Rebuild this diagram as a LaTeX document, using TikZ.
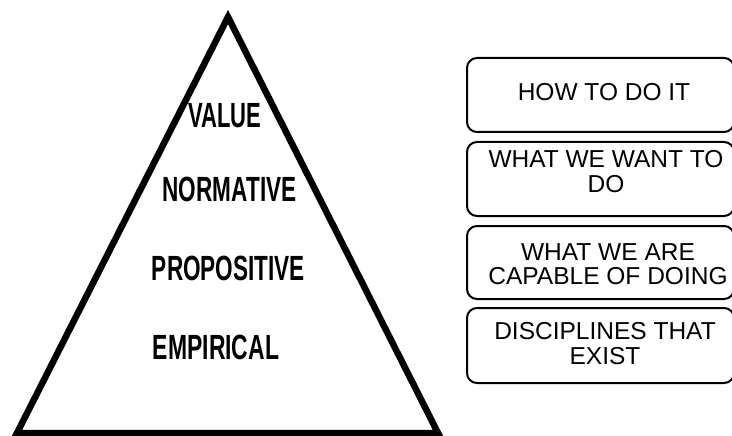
\documentclass[tikz,border=0pt]{standalone}
\usepackage{graphicx}
\usepackage{fontspec}
\setmainfont{Liberation Sans}
\begin{document}
\begin{tikzpicture}[x=1pt,y=-1pt,
  level/.style={inner sep=0pt, font=\fontsize{35}{35}\selectfont\bfseries},
  infobox/.style={draw=black, line width=2pt, rounded corners=10pt,
    minimum width=267pt, inner sep=0pt},
  infotext/.style={inner sep=0pt, align=center,
    font=\fontsize{24.5}{24.5}\selectfont}]
  \useasboundingbox (0,0) rectangle (732,436);

  % pyramid outline
  \coordinate (apex) at (228,17);
  \coordinate (bl) at (17,433);
  \coordinate (br) at (438,433);
  \draw[line width=6.5pt, line join=miter, miter limit=20] (apex) -- (bl) -- (br) -- cycle;

  % level labels (condensed bold)
  \node[level] (value) at (225,116) {\scalebox{0.63}[1]{VALUE}};
  \node[level] (normative) at (229.5,189.5) {\scalebox{0.645}[1]{NORMATIVE}};
  \node[level] (propositive) at (228.5,268.5) {\scalebox{0.645}[1]{PROPOSITIVE}};
  \node[level] (empirical) at (216,347.5) {\scalebox{0.655}[1]{EMPIRICAL}};

  % description boxes
  \node[infobox, minimum height=74pt] (b1) at (600.5,95) {};
  \node[infobox, minimum height=74pt] (b2) at (600.5,179) {};
  \node[infobox, minimum height=73pt] (b3) at (600.5,262.5) {};
  \node[infobox, minimum height=75pt] (b4) at (600.5,345.5) {};

  \node[infotext] (t1) at (604,92.5) {HOW TO DO IT};
  \node[infotext] (t2) at (606,171.5) {WHAT WE WANT TO\\DO};
  \node[infotext] (t3) at (608,264) {WHAT WE ARE\\CAPABLE OF DOING};
  \node[infotext] (t4) at (605,343.5) {DISCIPLINES THAT\\EXIST};
\end{tikzpicture}
\end{document}
